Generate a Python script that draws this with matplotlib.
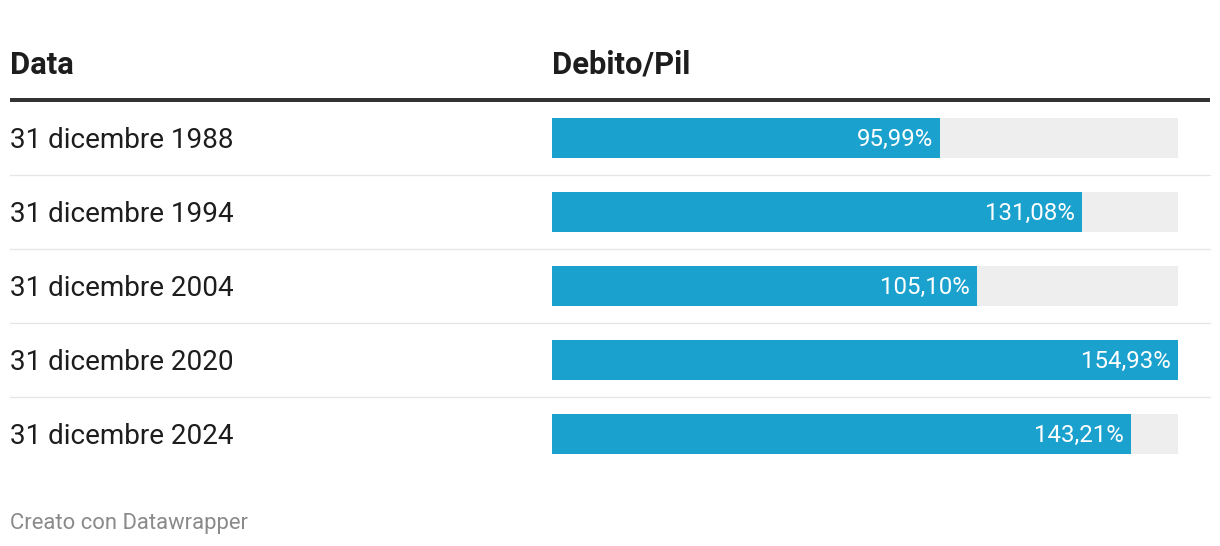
import matplotlib
matplotlib.use("Agg")
from matplotlib import pyplot as plt

dates = [
    "31 dicembre 1988",
    "31 dicembre 1994",
    "31 dicembre 2004",
    "31 dicembre 2020",
    "31 dicembre 2024",
]
debito_pil = [95.99, 131.08, 105.10, 154.93, 143.21]
col_headers = ["Data", "Debito/Pil"]
footer = "Creato con Datawrapper"

W, H = 1220, 546
bar_color = "#1aa1cd"
track_color = "#eeeeee"
text_color = "#1d1d1d"

plt.rcParams["font.family"] = ["Roboto", "DejaVu Sans"]
px = 0.72  # points per pixel at dpi=100

fig = plt.figure(figsize=(W / 100, H / 100), dpi=100)

# pixel-space axes for the table text and rules
ax = fig.add_axes([0, 0, 1, 1])
ax.set_xlim(0, W)
ax.set_ylim(H, 0)
ax.axis("off")

ax.text(10, 65, col_headers[0], fontsize=31 * px, fontweight="bold",
        color=text_color, va="center", ha="left")
ax.text(552, 65, col_headers[1], fontsize=31 * px, fontweight="bold",
        color=text_color, va="center", ha="left")
ax.plot([10, 1210], [100, 100], color="#333333", lw=4 * px,
        solid_capstyle="butt")

row_top = 101
row_h = 74
for i, label in enumerate(dates):
    yc = row_top + row_h * i + 39
    ax.text(10, yc, label, fontsize=27.9 * px, color=text_color,
            va="center", ha="left")
    if i < len(dates) - 1:
        ys = row_top + row_h * (i + 1)
        ax.plot([10, 1210], [ys, ys], color="#e6e6e6", lw=1.3 * px)

ax.text(10, 523, footer, fontsize=22 * px, color="#8a8a8a",
        va="center", ha="left")

# bar column
bx0, bx1 = 552, 1178
bax = fig.add_axes([bx0 / W, 1 - (row_top + row_h * len(dates)) / H,
                    (bx1 - bx0) / W, row_h * len(dates) / H])
vmax = max(debito_pil)
ypos = list(range(len(dates)))
bh = 40 / row_h
bax.barh(ypos, [vmax] * len(dates), height=bh, color=track_color)
bax.barh(ypos, debito_pil, height=bh, color=bar_color)
bax.set_xlim(0, vmax)
bax.set_ylim(len(dates) - 0.5, -0.5)
bax.axis("off")

for y, v in zip(ypos, debito_pil):
    lbl = f"{v:.2f}".replace(".", ",") + "%"
    bax.annotate(lbl, (v, y), xytext=(-7 * px, -1 * px),
                 textcoords="offset points",
                 ha="right", va="center", color="white", fontsize=24 * px)

fig.savefig("out.png", dpi=100)
